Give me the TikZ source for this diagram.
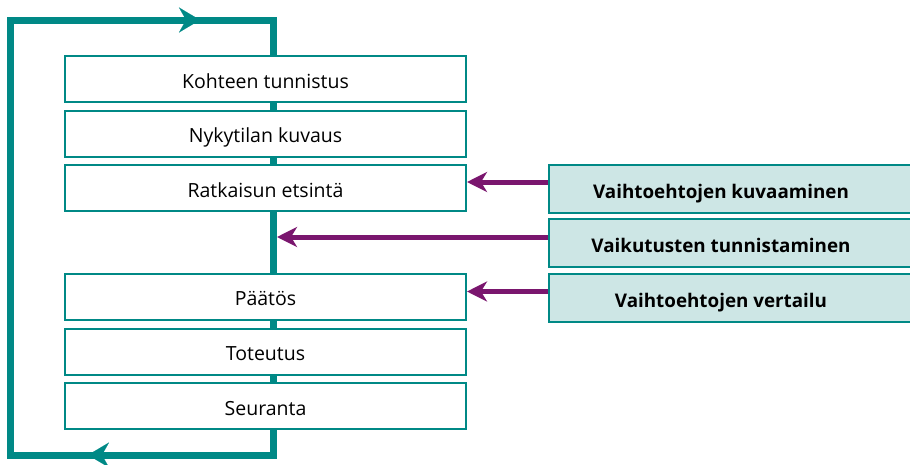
\documentclass[tikz,border=0pt]{standalone}
\usepackage{fontspec}
\setmainfont{Open Sans}
\usetikzlibrary{arrows.meta}
\definecolor{tealc}{RGB}{0,137,134}
\definecolor{purp}{RGB}{122,22,110}
\definecolor{lightt}{RGB}{205,230,229}
\tikzset{
  stepbox/.style={draw=tealc, line width=2pt, fill=white, minimum width=401pt, minimum height=46pt, inner sep=0pt, text height=18.6pt, text depth=0pt, font=\fontsize{19.5}{22}\selectfont},
  sidebox/.style={draw=tealc, line width=2pt, fill=lightt, minimum width=380pt, minimum height=48pt, inner sep=0pt},
  sidetext/.style={inner sep=0pt, text height=19.4pt, text depth=0pt, font=\fontsize{18.8}{22}\selectfont\bfseries},
  loopline/.style={draw=tealc, line width=7pt},
  looptip/.style={-{Stealth[length=21pt, width=25pt, inset=7pt]}, draw=tealc, fill=tealc, line width=0.1pt},
  purparrow/.style={draw=purp, line width=5pt, -{Stealth[length=20pt, width=20pt, inset=6pt]}},
}
\begin{document}
\begin{tikzpicture}[x=1pt,y=-1pt]
\useasboundingbox (0,0) rectangle (910,464);
\clip (0,0) rectangle (910,464);
% loop corners
\coordinate (ctr) at (273.5,20);
\coordinate (ctl) at (10.5,20);
\coordinate (cbl) at (10.5,455);
\coordinate (cbr) at (273.5,455);
\draw[loopline] (cbr) -- (cbl) -- (ctl) -- (ctr) -- cycle;
% arrowheads on the loop
\coordinate (ta0) at (170,20);
\coordinate (ta1) at (200,20);
\coordinate (ba0) at (118,455);
\coordinate (ba1) at (88,455);
\draw[looptip] (ta0) -- (ta1);
\draw[looptip] (ba0) -- (ba1);
% steps
\node[stepbox] (b1) at (265.5,79) {Kohteen tunnistus};
\node[stepbox] (b2) at (265.5,133.5) {Nykytilan kuvaus};
\node[stepbox] (b3) at (265.5,188) {Ratkaisun etsintä};
\node[stepbox] (b4) at (265.5,296.5) {Päätös};
\node[stepbox] (b5) at (265.5,351.5) {Toteutus};
\node[stepbox] (b6) at (265.5,406) {Seuranta};
% side boxes
\node[sidebox] (rA) at (739,188.5) {};
\node[sidebox] (rB) at (739,243) {};
\node[sidebox] (rC) at (739,297.5) {};
\node[sidetext] (tA) at (721,188.5) {Vaihtoehtojen kuvaaminen};
\node[sidetext] (tB) at (721,243) {Vaikutusten tunnistaminen};
\node[sidetext] (tC) at (721,297.5) {Vaihtoehtojen vertailu};
% purple arrows
\coordinate (lineB) at (277,237);
\draw[purparrow] ([yshift=6.5pt]rA.west) -- ([yshift=6.5pt]rA.west -| b3.east);
\draw[purparrow] ([yshift=6pt]rB.west) -- ([yshift=6pt]rB.west -| lineB);
\draw[purparrow] ([yshift=6pt]rC.west) -- ([yshift=6pt]rC.west -| b4.east);
\end{tikzpicture}
\end{document}
